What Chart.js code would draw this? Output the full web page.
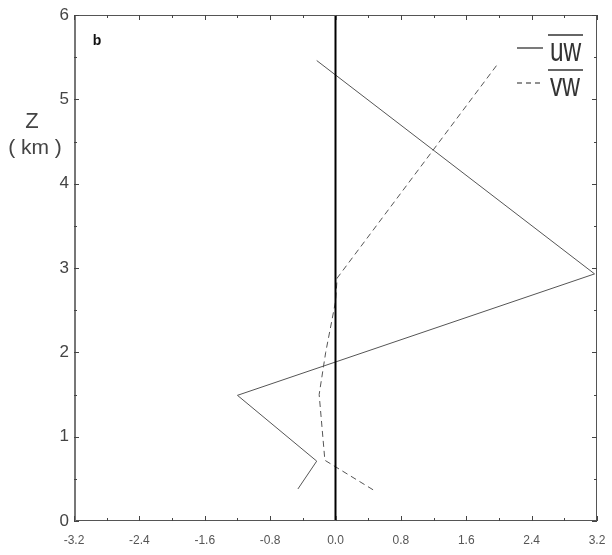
<!DOCTYPE html>
<html>
<head>
<meta charset="utf-8">
<script src="https://cdn.jsdelivr.net/npm/chart.js@4.4.1/dist/chart.umd.min.js"></script>
<style>
  html, body { margin: 0; padding: 0; background: #fff; }
  #wrap { width: 612px; height: 555px; position: relative; }
</style>
</head>
<body>
<div id="wrap"><canvas id="fluxChart"></canvas></div>
<script>
// momentum flux profiles (x value, height in km)
const uwX = [-0.46, -0.23, -1.20, 3.17, -0.23];
const uwZ = [0.38, 0.71, 1.49, 2.93, 5.46];

const vwX = [0.46, -0.13, -0.20, -0.12, 0.00, 0.02, 1.97];
const vwZ = [0.37, 0.72, 1.50, 2.00, 2.60, 2.88, 5.40];

// reference line at zero
const zeroX = [0, 0];
const zeroZ = [0, 6];

const xTickVals = [-3.2, -2.4, -1.6, -0.8, 0.0, 0.8, 1.6, 2.4, 3.2];
const xTickLabels = ["-3.2", "-2.4", "-1.6", "-0.8", "0.0", "0.8", "1.6", "2.4", "3.2"];
const yTickVals = [0, 1, 2, 3, 4, 5, 6];
const yTickLabels = ["0", "1", "2", "3", "4", "5", "6"];

const toPts = (xs, ys) => xs.map((x, i) => ({ x, y: ys[i] }));

const LINE = "#555";
const NARROW = "'Liberation Sans Narrow', 'Liberation Sans', sans-serif";

// box, inside ticks, panel letter, axis title and legend
const decor = {
  id: "decor",
  afterDraw(chart) {
    const { ctx, chartArea: a, scales: { x, y } } = chart;
    ctx.save();

    // frame
    ctx.strokeStyle = "#555";
    ctx.lineWidth = 1;
    ctx.strokeRect(a.left + 0.5, a.top + 0.5, a.right - a.left - 1, a.bottom - a.top - 1);
    ctx.strokeStyle = "#777";
    ctx.lineWidth = 2;
    ctx.beginPath();
    ctx.moveTo(a.left + 1, a.top);
    ctx.lineTo(a.left + 1, a.bottom);
    ctx.stroke();

    // inside ticks every 0.4 on x, every 0.5 on y
    ctx.strokeStyle = "#444";
    ctx.lineWidth = 1;
    ctx.beginPath();
    for (let i = -8; i <= 8; i++) {
      const px = Math.round(x.getPixelForValue(i * 0.4)) + 0.5;
      const len = i % 2 === 0 ? 5 : 3;
      ctx.moveTo(px, a.top);
      ctx.lineTo(px, a.top + len);
      ctx.moveTo(px, a.bottom);
      ctx.lineTo(px, a.bottom - len);
    }
    for (let j = 0; j <= 12; j++) {
      const py = Math.round(y.getPixelForValue(j * 0.5)) + 0.5;
      const len = j % 2 === 0 ? 5 : 3;
      ctx.moveTo(a.left, py);
      ctx.lineTo(a.left + len, py);
      ctx.moveTo(a.right, py);
      ctx.lineTo(a.right - len, py);
    }
    ctx.stroke();

    // panel letter
    ctx.fillStyle = "#111";
    ctx.font = "bold 14px 'Liberation Sans', sans-serif";
    ctx.textAlign = "center";
    ctx.textBaseline = "middle";
    ctx.fillText("b", 97, 41);

    // axis title
    ctx.fillStyle = "#444";
    ctx.font = "22px " + NARROW;
    ctx.fillText("Z", 32, 122);
    ctx.font = "21px " + NARROW;
    ctx.fillText("( km )", 35, 148);

    // legend
    const items = [
      { label: "uw", dash: [], ly: 48 },
      { label: "vw", dash: [5, 4], ly: 83 }
    ];
    items.forEach(it => {
      ctx.strokeStyle = "#222";
      ctx.lineWidth = 1.2;
      ctx.setLineDash(it.dash);
      ctx.beginPath();
      ctx.moveTo(517, it.ly);
      ctx.lineTo(543, it.ly);
      ctx.stroke();
      ctx.setLineDash([]);

      ctx.save();
      ctx.translate(550, it.ly + 13);
      ctx.scale(0.72, 1);
      ctx.font = "34px 'Liberation Sans', sans-serif";
      ctx.textAlign = "left";
      ctx.textBaseline = "alphabetic";
      ctx.fillStyle = "#333";
      ctx.fillText(it.label, 0, 0);
      ctx.restore();

      ctx.strokeStyle = "#333";
      ctx.lineWidth = 1.5;
      ctx.beginPath();
      ctx.moveTo(548, it.ly - 13);
      ctx.lineTo(583, it.ly - 13);
      ctx.stroke();
    });

    ctx.restore();
  }
};

new Chart(document.getElementById("fluxChart"), {
  type: "scatter",
  data: {
    datasets: [
      {
        label: "zero",
        data: toPts(zeroX, zeroZ),
        showLine: true,
        borderColor: "#000",
        borderWidth: 2,
        pointRadius: 0,
      },
      {
        label: "uw",
        data: toPts(uwX, uwZ),
        showLine: true,
        borderColor: LINE,
        borderWidth: 1,
        pointRadius: 0,
        tension: 0,
      },
      {
        label: "vw",
        data: toPts(vwX, vwZ),
        showLine: true,
        borderColor: LINE,
        borderWidth: 1,
        borderDash: [6, 4],
        pointRadius: 0,
        tension: 0,
      },
    ]
  },
  options: {
    responsive: true,
    maintainAspectRatio: false,
    animation: false,
    layout: { padding: { top: 15, right: 15, left: 0, bottom: 0 } },
    plugins: {
      legend: { display: false },
      tooltip: { enabled: false },
    },
    scales: {
      x: {
        type: "linear",
        min: -3.2,
        max: 3.2,
        afterBuildTicks: s => { s.ticks = xTickVals.map(v => ({ value: v })); },
        afterFit: s => { s.height = 34; s.paddingLeft = 0; s.paddingRight = 0; },
        grid: { display: false, drawTicks: false },
        border: { display: false },
        ticks: {
          padding: 12,
          color: "#555",
          font: { family: "'Liberation Sans Narrow', 'Liberation Sans', sans-serif", size: 12 },
          callback: (v, i) => xTickLabels[i],
        },
      },
      y: {
        type: "linear",
        min: 0,
        max: 6,
        afterBuildTicks: s => { s.ticks = yTickVals.map(v => ({ value: v })); },
        afterFit: s => { s.width = 74; s.paddingTop = 0; s.paddingBottom = 0; },
        grid: { display: false, drawTicks: false },
        border: { display: false },
        ticks: {
          padding: 5,
          color: "#444",
          font: { family: "'Liberation Sans Narrow', 'Liberation Sans', sans-serif", size: 17 },
          callback: (v, i) => yTickLabels[i],
        },
      },
    },
  },
  plugins: [decor],
});
</script>
</body>
</html>
